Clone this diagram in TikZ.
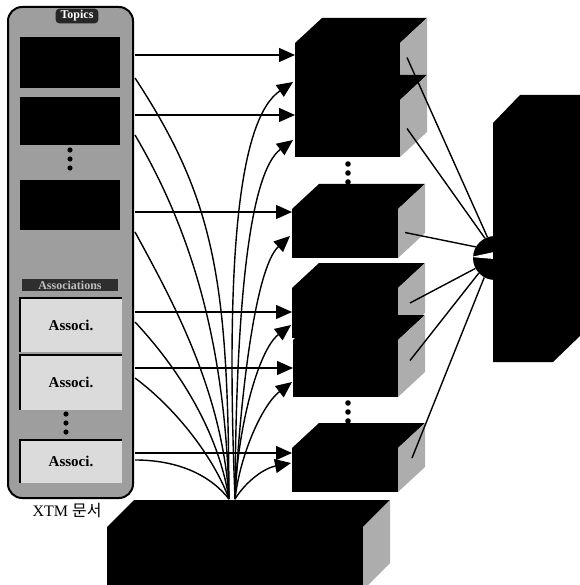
\documentclass[tikz,border=0pt]{standalone}
\usepackage{fontspec}
\setmainfont{Liberation Serif}
\newfontfamily\krfont{Noto Sans CJK KR}
\usetikzlibrary{arrows.meta}
\colorlet{panelgray}{black!38}
\colorlet{sidegray}{black!32}
\colorlet{assocfill}{black!14}
\newcommand\mkcube[4]{%
  \fill[black] (#1.north west) -- ([shift={(#2,#3)}]#1.north west) -- ([shift={(#2,#3)}]#1.north east) -- (#1.north east) -- cycle;
  \fill[#4] (#1.north east) -- ([shift={(#2,#3)}]#1.north east) -- ([shift={(#2,#3)}]#1.south east) -- (#1.south east) -- cycle;}
\begin{document}
\begin{tikzpicture}[x=1pt,y=-1pt,
  conn/.style={line width=1.4pt},
  arr/.style={conn,-{Triangle[length=16pt,width=14pt]}},
  front/.style={fill=black,inner sep=0pt,outer sep=0pt},
  topicbox/.style={fill=black,inner sep=0pt,outer sep=0pt,minimum width=100},
  assocbox/.style={fill=assocfill,inner sep=0pt,outer sep=0pt,minimum width=102,font=\bfseries\fontsize{15pt}{17pt}\selectfont},
  dotmark/.style={fill=black}]
\path[fill=white,use as bounding box] (0,0) rectangle (579,585);

% left panel
\node[draw,line width=2pt,rounded corners=14pt,fill=panelgray,inner sep=0pt,minimum width=125,minimum height=491] (panel) at (70.5,252.5) {};
\node[fill=black!85,text=white,rounded corners=4pt,inner xsep=5pt,inner ysep=2pt,font=\bfseries\fontsize{12pt}{13pt}\selectfont] (topics) at (77,16) {Topics};
\node[topicbox,minimum height=51] (t1) at (70,62.5) {};
\node[topicbox,minimum height=48] (t2) at (70,121) {};
\node[topicbox,minimum height=50] (t3) at (70,205) {};
\foreach \yy in {150,159,168} \fill[dotmark] (70,\yy) circle[radius=2.6];
\node[fill=black!82,text=black!25,inner xsep=5pt,inner ysep=2pt,minimum width=96,font=\bfseries\fontsize{12pt}{13pt}\selectfont] (assocs) at (70,285) {Associations};
\node[assocbox,minimum height=54] (a1) at (71,325) {Associ.};
\node[assocbox,minimum height=55] (a2) at (71,382.5) {Associ.};
\node[assocbox,minimum height=43] (a3) at (71,461.5) {Associ.};
\foreach \bx in {a1,a2,a3} \draw[line width=2.4pt] (\bx.south west) -- (\bx.north west) -- (\bx.north east);
\foreach \yy in {414,423,432} \fill[dotmark] (66,\yy) circle[radius=2.6];
\node (cap) at (67,511) {\fontsize{16pt}{18pt}\selectfont XTM {\krfont 문서}};

% middle cubes
\node[front,minimum width=105,minimum height=57] (c1) at (347.5,71.5) {};
\mkcube{c1}{27}{-25}{sidegray}
\node[front,minimum width=105,minimum height=57] (c2) at (347.5,128.5) {};
\mkcube{c2}{27}{-25}{sidegray}
\foreach \yy in {164,173,182} \fill[dotmark] (348,\yy) circle[radius=2.8];
\node[front,minimum width=106,minimum height=49] (c3) at (345,233.5) {};
\mkcube{c3}{27}{-25}{sidegray}
\node[front,minimum width=106,minimum height=50] (c4) at (345,313) {};
\mkcube{c4}{27}{-25}{sidegray}
\node[front,minimum width=105,minimum height=57] (c5) at (345.5,368.5) {};
\mkcube{c5}{27}{-25}{sidegray}
\foreach \yy in {403,412,421} \fill[dotmark] (348,\yy) circle[radius=2.8];
\node[front,minimum width=106,minimum height=44] (c6) at (345,470) {};
\mkcube{c6}{27}{-25}{sidegray}

% bottom box
\node[front,minimum width=256,minimum height=63] (bb) at (235,558.5) {};
\mkcube{bb}{27}{-27}{sidegray}

% right box with plug
\node[circle,fill=black,minimum size=44,inner sep=0pt] (plug) at (495,258) {};
\fill[white] (471,257) -- (494,252) -- (494,259) -- cycle;
\node[front,minimum width=60,minimum height=239] (rb) at (523,242.5) {};
\fill[black] (rb.south west) -- (rb.north west) -- ++(27,-28) -- ++(62,0) -- ++(0,239) -- (rb.south east) -- cycle;

% ports
\coordinate (t1h) at (135,55);  \coordinate (t2h) at (135,115); \coordinate (t3h) at (135,212);
\coordinate (a1h) at (135,312); \coordinate (a2h) at (135,368); \coordinate (a3h) at (135,453);
\coordinate (t1d) at (135,78);  \coordinate (t2d) at (135,135); \coordinate (t3d) at (135,232);
\coordinate (a1d) at (135,322); \coordinate (a2d) at (135,378); \coordinate (a3d) at (135,460);
\coordinate (cvin) at ([shift={(-6,-28)}]bb.north);
\coordinate (cvout) at ([shift={(0,-28)}]bb.north);
\coordinate (c1u) at ([shift={(-2,10.5)}]c1.west);
\coordinate (c2u) at ([shift={(-2,11.5)}]c2.west);
\coordinate (c3u) at ([shift={(-2,2.5)}]c3.west);
\coordinate (c4u) at ([shift={(-1,12)}]c4.west);
\coordinate (c5u) at ([shift={(-1,13.5)}]c5.west);
\coordinate (c6u) at ([shift={(-1,-7)}]c6.west);

% horizontal arrows
\draw[arr] (t1h) -- (c1.west |- t1h);
\draw[arr] (t2h) -- (c2.west |- t2h);
\draw[arr] (t3h) -- (c3.west |- t3h);
\draw[arr] (a1h) -- (c4.west |- a1h);
\draw[arr] (a2h) -- (c5.west |- a2h);
\draw[arr] (a3h) -- (c6.west |- a3h);

% curves down to bottom box
\draw[conn] (t1d) .. controls (215,200) and (228,280) .. (cvin);
\draw[conn] (t2d) .. controls (185,220) and (225,330) .. (cvin);
\draw[conn] (t3d) .. controls (172,300) and (222,390) .. (cvin);
\draw[conn] (a1d) .. controls (178,368) and (218,430) .. (cvin);
\draw[conn] (a2d) .. controls (178,410) and (215,460) .. (cvin);
\draw[conn] (a3d) .. controls (178,460) and (210,475) .. (cvin);

% curves up to cubes
\draw[arr] (cvout) .. controls (225,250) and (240,118) .. (c1u);
\draw[arr] (cvout) .. controls (236,300) and (250,172) .. (c2u);
\draw[arr] (cvout) .. controls (240,400) and (255,268) .. (c3u);
\draw[arr] (cvout) .. controls (237,430) and (258,350) .. (c4u);
\draw[arr] (cvout) .. controls (240,455) and (262,405) .. (c5u);
\draw[arr] (cvout) .. controls (247,480) and (265,468) .. (c6u);

% cubes to plug
\draw[conn] ([shift={(7,-14)}]c1.east) -- (plug.110);
\draw[conn] ([shift={(7,0)}]c2.east) -- (plug.117);
\draw[conn] ([shift={(7,-1)}]c3.east) -- (plug.150);
\draw[conn] ([shift={(12,-10)}]c4.east) -- (plug.208);
\draw[conn] ([shift={(12,-8)}]c5.east) -- (plug.223);
\draw[conn] ([shift={(14,-12)}]c6.east) -- (plug.241);
\end{tikzpicture}
\end{document}
